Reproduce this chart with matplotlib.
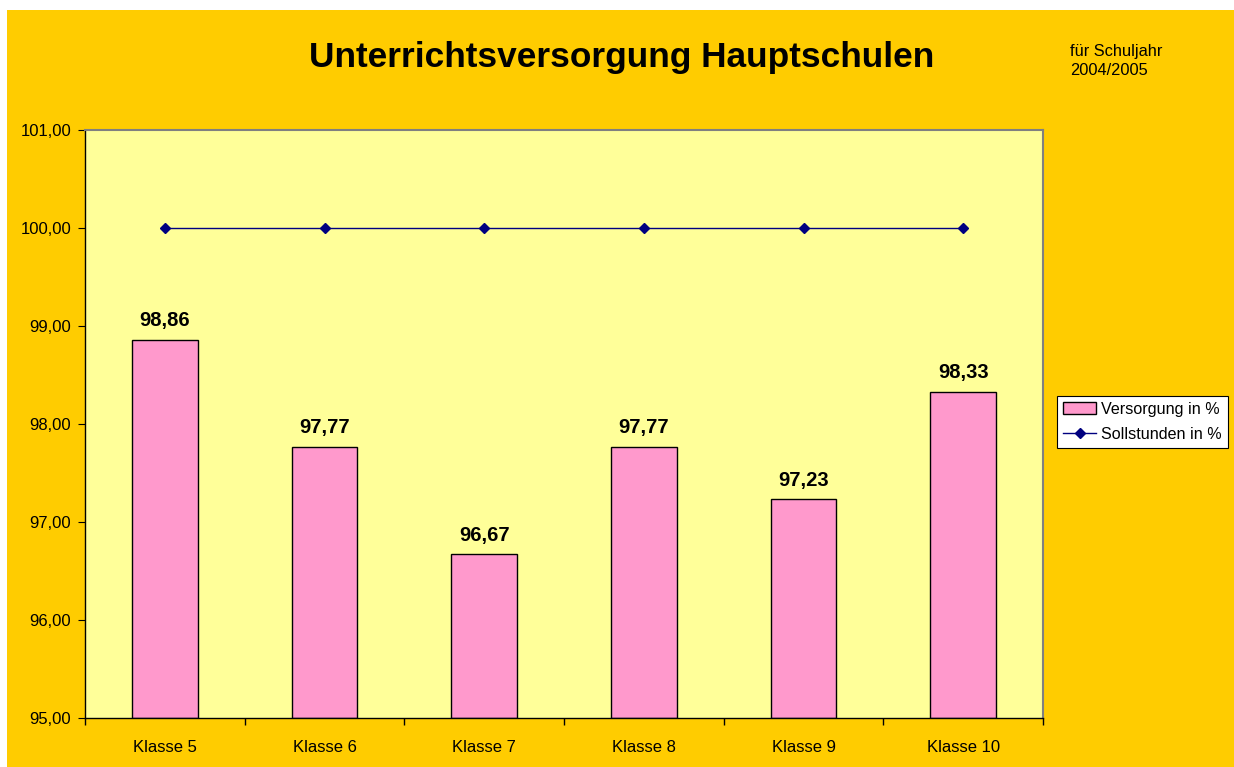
"""Unterrichtsversorgung Hauptschulen bar chart."""

import matplotlib

matplotlib.use("Agg")
import matplotlib.pyplot as plt  # noqa: E402
from matplotlib.patches import Rectangle  # noqa: E402
from matplotlib.ticker import FixedLocator, FuncFormatter  # noqa: E402

categories = ["Klasse 5", "Klasse 6", "Klasse 7", "Klasse 8", "Klasse 9", "Klasse 10"]
versorgung = [98.86, 97.77, 96.67, 97.77, 97.23, 98.33]
sollstunden = [100.0, 100.0, 100.0, 100.0, 100.0, 100.0]
y_ticks = [95, 96, 97, 98, 99, 100, 101]

plt.rcParams["font.family"] = ["Liberation Sans", "DejaVu Sans"]

fig = plt.figure(figsize=(12.34, 7.67), dpi=100, facecolor="white")
fig.patches.append(
    Rectangle((7 / 1234, 0), 1, 1 - 10 / 767, transform=fig.transFigure,
              facecolor="#FFCC00", edgecolor="none", zorder=-10)
)

ax = fig.add_axes([85 / 1234, 1 - 718 / 767, (1043 - 85) / 1234, (718 - 130) / 767])
ax.set_facecolor("#FFFF99")

x = list(range(len(categories)))
bars = ax.bar(x, [v - 95 for v in versorgung], bottom=95, width=0.41,
              color="#FF99CC", edgecolor="black", linewidth=1.0,
              label="Versorgung in %", zorder=2)
(line,) = ax.plot(x, sollstunden, color="#000080", marker="D", markersize=5,
                  linewidth=1.0, label="Sollstunden in %", zorder=3)

for xi, v in zip(x, versorgung):
    ax.annotate(f"{v:.2f}".replace(".", ","), (xi, v), textcoords="offset points",
                xytext=(0, 7), ha="center", va="bottom",
                fontsize=14.5, fontweight="bold")

ax.set_xlim(-0.5, len(categories) - 0.5)
ax.set_ylim(95, 101)
ax.yaxis.set_major_locator(FixedLocator(y_ticks))
ax.yaxis.set_major_formatter(FuncFormatter(lambda v, _: f"{v:.2f}".replace(".", ",")))
ax.set_xticks(x)
ax.set_xticklabels(categories)
ax.xaxis.set_minor_locator(FixedLocator([i - 0.5 for i in range(len(categories) + 1)]))
ax.tick_params(axis="x", which="major", length=0, pad=16, labelsize=12)
ax.tick_params(axis="x", which="minor", length=5, direction="out", width=1)
ax.tick_params(axis="y", length=5, direction="out", labelsize=12, pad=5)

for side in ("top", "right"):
    ax.spines[side].set_color("#808080")
    ax.spines[side].set_linewidth(1.5)
for side in ("left", "bottom"):
    ax.spines[side].set_color("black")
    ax.spines[side].set_linewidth(1.0)

fig.text(622 / 1234, 1 - 57 / 767, "Unterrichtsversorgung Hauptschulen",
         ha="center", va="center", fontsize=25.4, fontweight="bold")
fig.text(1070 / 1234, 1 - 61 / 767, "für Schuljahr\n2004/2005",
         ha="left", va="center", fontsize=11.8, linespacing=1.35)

leg = fig.legend(handles=[bars, line], loc="upper left",
                 bbox_to_anchor=(1057 / 1234, 1 - 396 / 767),
                 fontsize=11.6, frameon=True, fancybox=False, framealpha=1,
                 borderpad=0.35, handlelength=2.1, handletextpad=0.3,
                 labelspacing=0.65, borderaxespad=0)
leg.get_frame().set_edgecolor("black")
leg.get_frame().set_linewidth(0.8)
leg.get_frame().set_facecolor("white")

fig.savefig("out.png", dpi=100, facecolor=fig.get_facecolor())
